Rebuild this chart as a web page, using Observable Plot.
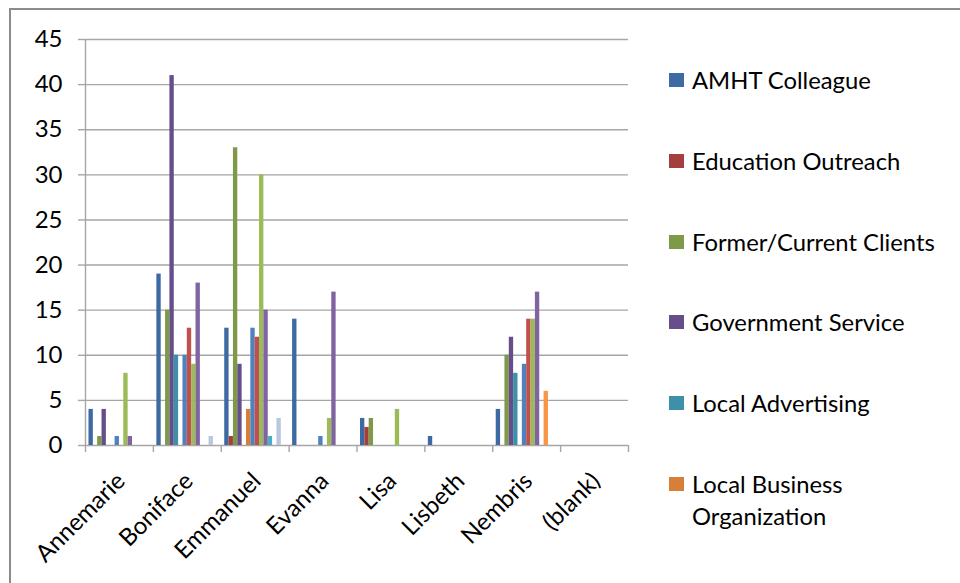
<!DOCTYPE html>
<html>
<head>
<meta charset="utf-8">
<script src="https://cdn.jsdelivr.net/npm/d3@7"></script>
<script src="https://cdn.jsdelivr.net/npm/@observablehq/plot@0.6"></script>
<style>
  html, body { margin: 0; padding: 0; background: #fff; }
  #wrap { position: relative; width: 960px; height: 583px; overflow: hidden; font-family: Lato, "Open Sans", sans-serif; }
  #border { position: absolute; left: 9px; top: 8px; right: -10px; bottom: -10px; border-top: 2px solid #8c8c8c; border-left: 2px solid #8c8c8c; pointer-events: none; }
  #legend { position: absolute; left: 669px; top: 0; width: 291px; height: 583px; }
  .item { position: absolute; left: 0; display: flex; align-items: flex-start; }
  .sw { width: 15px; height: 14px; margin-top: 9px; flex: none; }
  .lab { margin-left: 8px; font-size: 23.8px; line-height: 32px; width: 264px; color: #000; }
</style>
</head>
<body>
<div id="wrap"><div id="chart"></div><div id="legend"></div><div id="border"></div></div>
<script>
const categories = ["Annemarie", "Boniface", "Emmanuel", "Evanna", "Lisa", "Lisbeth", "Nembris", "(blank)"];
const seriesNames = ["AMHT Colleague", "Education Outreach", "Former/Current Clients", "Government Service",
  "Local Advertising", "Local Business Organization", "Series 7", "Series 8", "Series 9", "Series 10",
  "Series 11", "Series 12", "Series 13", "(blank)"];
const legendShown = 6;
const seriesColors = ["#3e6aa4", "#a33f3c", "#7e9a48", "#664e8a", "#3c91a8", "#d77f38",
  "#4f81bd", "#c0504d", "#9bbb59", "#8064a2", "#4bacc6", "#f79646", "#b9c7e0", "#d9a3a2"];
const yTicks = [0, 5, 10, 15, 20, 25, 30, 35, 40, 45];

const amhtColleague          = [4, 19, 13, 14, 3, 1, 4, 0];
const educationOutreach      = [0, 0, 1, 0, 2, 0, 0, 0];
const formerCurrentClients   = [1, 15, 33, 0, 3, 0, 10, 0];
const governmentService      = [4, 41, 9, 0, 0, 0, 12, 0];
const localAdvertising       = [0, 10, 0, 0, 0, 0, 8, 0];
const localBusinessOrg       = [0, 0, 4, 0, 0, 0, 0, 0];
const series7                = [1, 10, 13, 1, 0, 0, 9, 0];
const series8                = [0, 13, 12, 0, 0, 0, 14, 0];
const series9                = [8, 9, 30, 3, 4, 0, 14, 0];
const series10               = [1, 18, 15, 17, 0, 0, 17, 0];
const series11               = [0, 0, 1, 0, 0, 0, 0, 0];
const series12               = [0, 0, 0, 0, 0, 0, 6, 0];
const series13               = [0, 1, 3, 0, 0, 0, 0, 0];
const seriesBlank            = [0, 0, 0, 0, 0, 0, 0, 0];

const allSeries = [amhtColleague, educationOutreach, formerCurrentClients, governmentService,
  localAdvertising, localBusinessOrg, series7, series8, series9, series10, series11, series12, series13, seriesBlank];

const groupPad = 0.8; // outer padding in bar widths within each category band
const slots = seriesNames.length + 2 * groupPad;
const data = [];
allSeries.forEach((vals, si) => vals.forEach((v, ci) => {
  if (v > 0) data.push({cat: categories[ci], ci, series: seriesNames[si], si, value: v});
}));

const gray = "#a6a6a6";
const chart = Plot.plot({
  width: 960, height: 583,
  marginLeft: 85, marginRight: 332, marginTop: 39, marginBottom: 138,
  x: {domain: [0, categories.length], axis: null},
  y: {domain: [0, 45], axis: null},
  color: {domain: seriesNames, range: seriesColors},
  style: {fontFamily: "Lato, 'Open Sans', sans-serif", fontSize: "23px", color: "#000", background: "transparent"},
  marks: [
    Plot.gridY(yTicks, {stroke: gray, strokeOpacity: 1, strokeWidth: 1.4}),
    Plot.ruleX([0], {stroke: gray, strokeWidth: 1.4}),
    Plot.axisY(yTicks, {tickSize: 7, tickPadding: 16, stroke: gray, strokeWidth: 1.4, fill: "#000", fontSize: 24, label: null}),
    Plot.axisX(d3.range(categories.length + 1), {anchor: "bottom", tickSize: 7, tickFormat: () => "", stroke: gray, strokeWidth: 1.4, label: null}),
    Plot.rectY(data, {
      x1: d => d.ci + (groupPad + d.si) / slots,
      x2: d => d.ci + (groupPad + d.si + 1) / slots,
      y: "value", fill: "series", inset: 0
    }),
    Plot.text(categories, {
      x: (d, i) => i + 0.5, frameAnchor: "bottom",
      rotate: -45, textAnchor: "end", lineAnchor: "top",
      dx: -5, dy: 25, fontSize: 24, fill: "#000"
    })
  ]
});
document.getElementById("chart").appendChild(chart);

const legend = document.getElementById("legend");
seriesNames.slice(0, legendShown).forEach((name, i) => {
  const it = document.createElement("div");
  it.className = "item";
  it.style.top = (64 + i * 80.8) + "px";
  const sw = document.createElement("div");
  sw.className = "sw";
  sw.style.background = seriesColors[i];
  const lab = document.createElement("div");
  lab.className = "lab";
  lab.textContent = name;
  it.appendChild(sw); it.appendChild(lab);
  legend.appendChild(it);
});
</script>
</body>
</html>
